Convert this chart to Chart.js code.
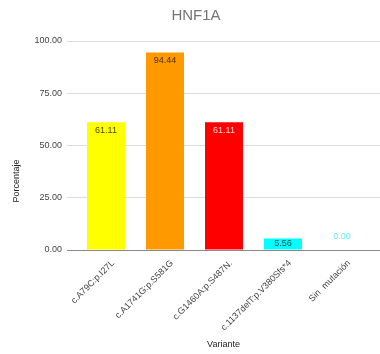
<!DOCTYPE html>
<html>
<head>
<meta charset="utf-8">
<script src="https://cdn.jsdelivr.net/npm/chart.js@4/dist/chart.umd.min.js"></script>
<style>
  html, body { margin: 0; padding: 0; background: #ffffff; }
  canvas { display: block; }
</style>
</head>
<body>
<canvas id="chart" width="380" height="354"></canvas>
<script>
// Variantes de HNF1A y porcentaje de pacientes con cada una
const variants = ['c.A79C:p.I27L', 'c.A1741G:p.S581G', 'c.G1460A:p.S487N.', 'c.1137delT:p.V380Sfs*4', 'Sin  mutación'];
const percentages = [61.11, 94.44, 61.11, 5.56, 0.00];
const barColors = ['#ffff00', '#ff9900', '#ff0000', '#00ffff', '#00ffff'];
const valueLabelColors = ['#4d4d00', '#4d2e00', '#ffd0d0', '#004d4d', '#5ef0ff'];
const yTicks = [0, 25, 50, 75, 100];

const FONT = '"Liberation Sans", Arial, sans-serif';

// Chart title and vertical axis title
const titlesPlugin = {
  id: 'titles',
  afterDraw(chart) {
    const ctx = chart.ctx;
    ctx.save();
    ctx.fillStyle = '#757575';
    ctx.font = '15px ' + FONT;
    ctx.textAlign = 'center';
    ctx.textBaseline = 'middle';
    ctx.fillText('HNF1A', 196, 16);

    ctx.fillStyle = '#222222';
    ctx.font = '9px ' + FONT;
    ctx.translate(17, 181);
    ctx.rotate(-Math.PI / 2);
    ctx.fillText('Porcentaje', 0, 0);
    ctx.restore();
  }
};

// Value labels written inside the top of each bar
const valueLabelsPlugin = {
  id: 'valueLabels',
  afterDatasetsDraw(chart) {
    const ctx = chart.ctx;
    const meta = chart.getDatasetMeta(0);
    ctx.save();
    ctx.font = '9px ' + FONT;
    ctx.textAlign = 'center';
    ctx.textBaseline = 'middle';
    meta.data.forEach((bar, i) => {
      const v = percentages[i];
      let y;
      if (v === 0) {
        y = bar.base - 13;
      } else {
        y = Math.min(bar.y + 8, (bar.y + bar.base) / 2);
      }
      ctx.fillStyle = valueLabelColors[i];
      ctx.fillText(v.toFixed(2), bar.x, y);
    });
    ctx.restore();
  }
};

new Chart(document.getElementById('chart'), {
  type: 'bar',
  data: {
    datasets: [{
      data: percentages.map((v, i) => ({ x: i, y: v })),
      backgroundColor: barColors,
      borderWidth: 0,
      categoryPercentage: 0.8,
      barPercentage: 0.805
    }]
  },
  options: {
    responsive: false,
    animation: false,
    events: [],
    layout: { padding: { top: 41, right: 0, bottom: 0, left: 0 } },
    plugins: {
      legend: { display: false },
      tooltip: { enabled: false },
      title: { display: false }
    },
    scales: {
      x: {
        type: 'linear',
        offset: false,
        min: -0.661,
        max: 4.644,
        afterBuildTicks(axis) {
          axis.ticks = variants.map((_, i) => ({ value: i }));
        },
        afterFit(axis) { axis.height = 104; },
        grid: { display: false, drawTicks: false, offset: false },
        border: { display: true, color: '#8a8a8a', width: 1 },
        ticks: {
          autoSkip: false,
          minRotation: 45,
          maxRotation: 45,
          padding: 8,
          labelOffset: 7,
          color: '#444444',
          font: { family: FONT, size: 9 },
          callback: (value) => variants[value] ?? ''
        },
        title: {
          display: true,
          text: 'Variante',
          color: '#222222',
          font: { family: FONT, size: 9 },
          padding: { top: 2, bottom: 4 }
        }
      },
      y: {
        min: 0,
        max: 100,
        afterBuildTicks(axis) {
          axis.ticks = yTicks.map(v => ({ value: v }));
        },
        afterFit(axis) { axis.width = 67; },
        grid: { color: '#dcdcdc', lineWidth: 1, drawTicks: false },
        border: { display: false },
        ticks: {
          padding: 5,
          color: '#444444',
          font: { family: FONT, size: 9 },
          callback: (value) => Number(value).toFixed(2)
        }
      }
    }
  },
  plugins: [titlesPlugin, valueLabelsPlugin]
});
</script>
</body>
</html>
